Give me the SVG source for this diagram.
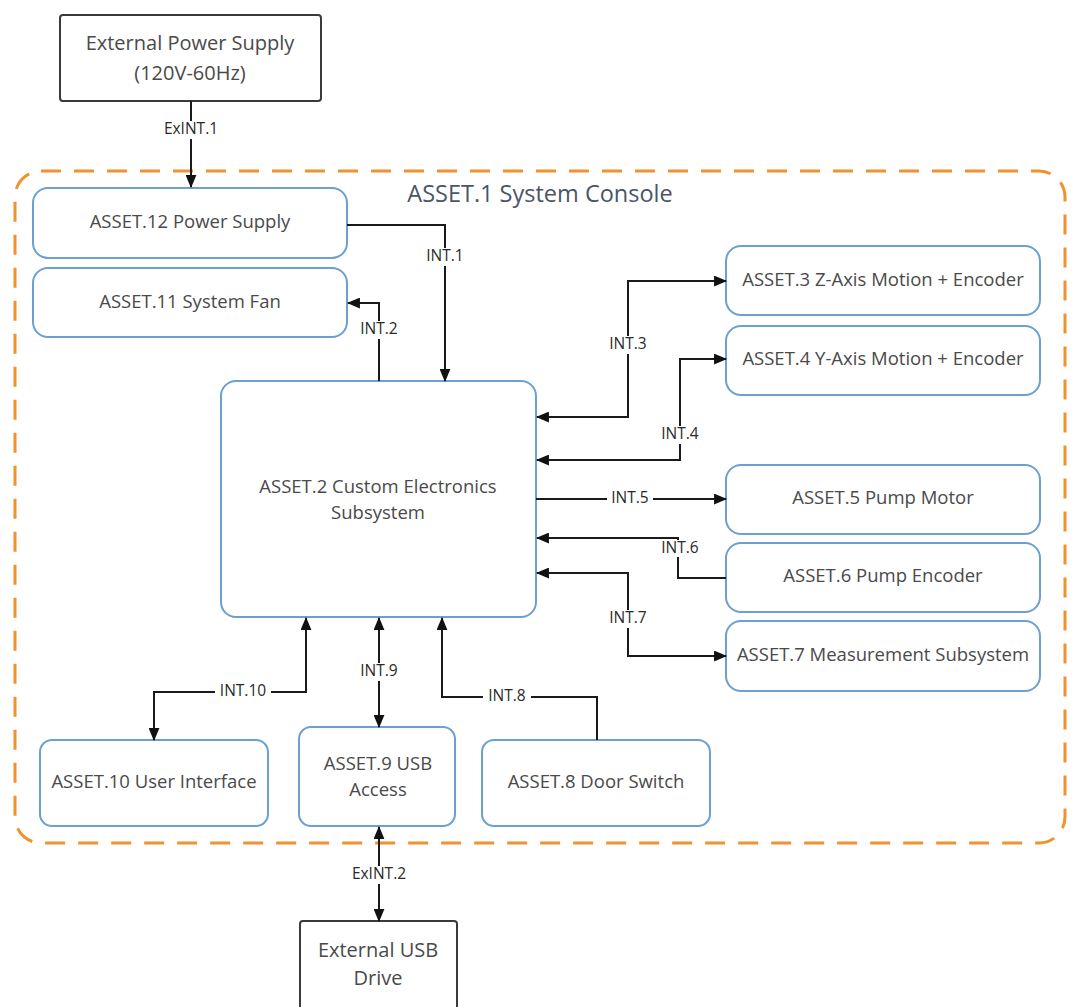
<svg xmlns="http://www.w3.org/2000/svg" width="1076" height="1007" viewBox="0 0 1076 1007">
<style>
.n{fill:#fff;stroke:#6c9fd2;stroke-width:2}
.x{fill:#fff;stroke:#3a3a3a;stroke-width:2}
.t{font-family:"Open Sans","Liberation Sans",Arial,sans-serif;font-size:18.5px;fill:#4a4a4a;text-anchor:middle;dominant-baseline:middle}
.e{font-size:20px}
.c{fill:none;stroke:#1a1a1a;stroke-width:2}
.l{font-family:"Open Sans","Liberation Sans",Arial,sans-serif;font-size:15.5px;fill:#2a2a2a;text-anchor:middle;dominant-baseline:middle}
.bg{fill:#fff}
</style>
<defs>
<marker id="a" viewBox="0 0 12 10" refX="11" refY="5" markerWidth="13" markerHeight="11" markerUnits="userSpaceOnUse" orient="auto-start-reverse"><path d="M0,0L12,5L0,10z" fill="#111"/></marker>
</defs>
<rect width="1076" height="1007" fill="#fff"/>
<g id="console">
<rect x="15" y="171" width="1050" height="672" rx="26" fill="none" stroke="#f0922e" stroke-width="3" stroke-dasharray="20,13"/>
<text class="t" x="540" y="196" style="font-size:23.5px;fill:#4a5568">ASSET.1 System Console</text>
</g>
<g id="ext-power"><rect class="x" x="60" y="15" width="261" height="86" rx="3"/><text class="t e" x="190" y="45">External Power Supply</text><text class="t e" x="190" y="75">(120V-60Hz)</text></g>
<g id="ext-usb"><rect class="x" x="300" y="921" width="157" height="100" rx="3"/><text class="t e" x="378" y="952">External USB</text><text class="t e" x="378" y="980">Drive</text></g>
<g id="asset12"><rect class="n" x="33" y="188" width="314" height="70" rx="15"/><text class="t" x="190" y="223">ASSET.12 Power Supply</text></g>
<g id="asset11"><rect class="n" x="33" y="268" width="314" height="69" rx="15"/><text class="t" x="190" y="303">ASSET.11 System Fan</text></g>
<g id="asset2"><rect class="n" x="221" y="381" width="315" height="236" rx="15"/><text class="t" x="378" y="488">ASSET.2 Custom Electronics</text><text class="t" x="378" y="514">Subsystem</text></g>
<g id="asset3"><rect class="n" x="726" y="246" width="314" height="69" rx="15"/><text class="t" x="883" y="281">ASSET.3 Z-Axis Motion + Encoder</text></g>
<g id="asset4"><rect class="n" x="726" y="326" width="314" height="69" rx="15"/><text class="t" x="883" y="360">ASSET.4 Y-Axis Motion + Encoder</text></g>
<g id="asset5"><rect class="n" x="726" y="465" width="314" height="69" rx="15"/><text class="t" x="883" y="499">ASSET.5 Pump Motor</text></g>
<g id="asset6"><rect class="n" x="726" y="543" width="314" height="69" rx="15"/><text class="t" x="883" y="577">ASSET.6 Pump Encoder</text></g>
<g id="asset7"><rect class="n" x="726" y="621" width="314" height="70" rx="15"/><text class="t" x="883" y="656">ASSET.7 Measurement Subsystem</text></g>
<g id="asset10"><rect class="n" x="40" y="740" width="228" height="86" rx="12"/><text class="t" x="154" y="783">ASSET.10 User Interface</text></g>
<g id="asset9"><rect class="n" x="299" y="727" width="156" height="99" rx="12"/><text class="t" x="378" y="765">ASSET.9 USB</text><text class="t" x="378" y="791">Access</text></g>
<g id="asset8"><rect class="n" x="482" y="740" width="228" height="86" rx="12"/><text class="t" x="596" y="783">ASSET.8 Door Switch</text></g>
<g id="connectors">
<path class="c" d="M191,101V187" marker-end="url(#a)"/>
<rect class="bg" x="158" y="121" width="66" height="18"/><text class="l" x="191" y="130">ExINT.1</text>
<path class="c" d="M347,225H445V381" marker-end="url(#a)"/>
<rect class="bg" x="423" y="248" width="44" height="18"/><text class="l" x="445" y="257">INT.1</text>
<path class="c" d="M379,381V303H348" marker-end="url(#a)"/>
<rect class="bg" x="357" y="321" width="44" height="18"/><text class="l" x="379" y="330">INT.2</text>
<path class="c" d="M537,417H628V281H726" marker-start="url(#a)" marker-end="url(#a)"/>
<rect class="bg" x="606" y="336" width="44" height="18"/><text class="l" x="628" y="345">INT.3</text>
<path class="c" d="M537,460H680V359H726" marker-start="url(#a)" marker-end="url(#a)"/>
<rect class="bg" x="658" y="426" width="44" height="18"/><text class="l" x="680" y="435">INT.4</text>
<path class="c" d="M536,499H726" marker-end="url(#a)"/>
<rect class="bg" x="607" y="490" width="46" height="18"/><text class="l" x="630" y="499">INT.5</text>
<path class="c" d="M726,578H678V538H537" marker-end="url(#a)"/>
<rect class="bg" x="657" y="540" width="46" height="17"/><text class="l" x="680" y="549">INT.6</text>
<path class="c" d="M537,573H628V656H726" marker-start="url(#a)" marker-end="url(#a)"/>
<rect class="bg" x="605" y="610" width="46" height="18"/><text class="l" x="628" y="619">INT.7</text>
<path class="c" d="M306,618V692H154V740" marker-start="url(#a)" marker-end="url(#a)"/>
<rect class="bg" x="215" y="683" width="56" height="18"/><text class="l" x="243" y="692">INT.10</text>
<path class="c" d="M379,618V727" marker-start="url(#a)" marker-end="url(#a)"/>
<rect class="bg" x="356" y="663" width="46" height="18"/><text class="l" x="379" y="672">INT.9</text>
<path class="c" d="M597,740V697H442V618" marker-end="url(#a)"/>
<rect class="bg" x="483" y="688" width="48" height="18"/><text class="l" x="507" y="697">INT.8</text>
<path class="c" d="M379,827V921" marker-start="url(#a)" marker-end="url(#a)"/>
<rect class="bg" x="345" y="866" width="68" height="18"/><text class="l" x="379" y="875">ExINT.2</text>
</g>
</svg>
